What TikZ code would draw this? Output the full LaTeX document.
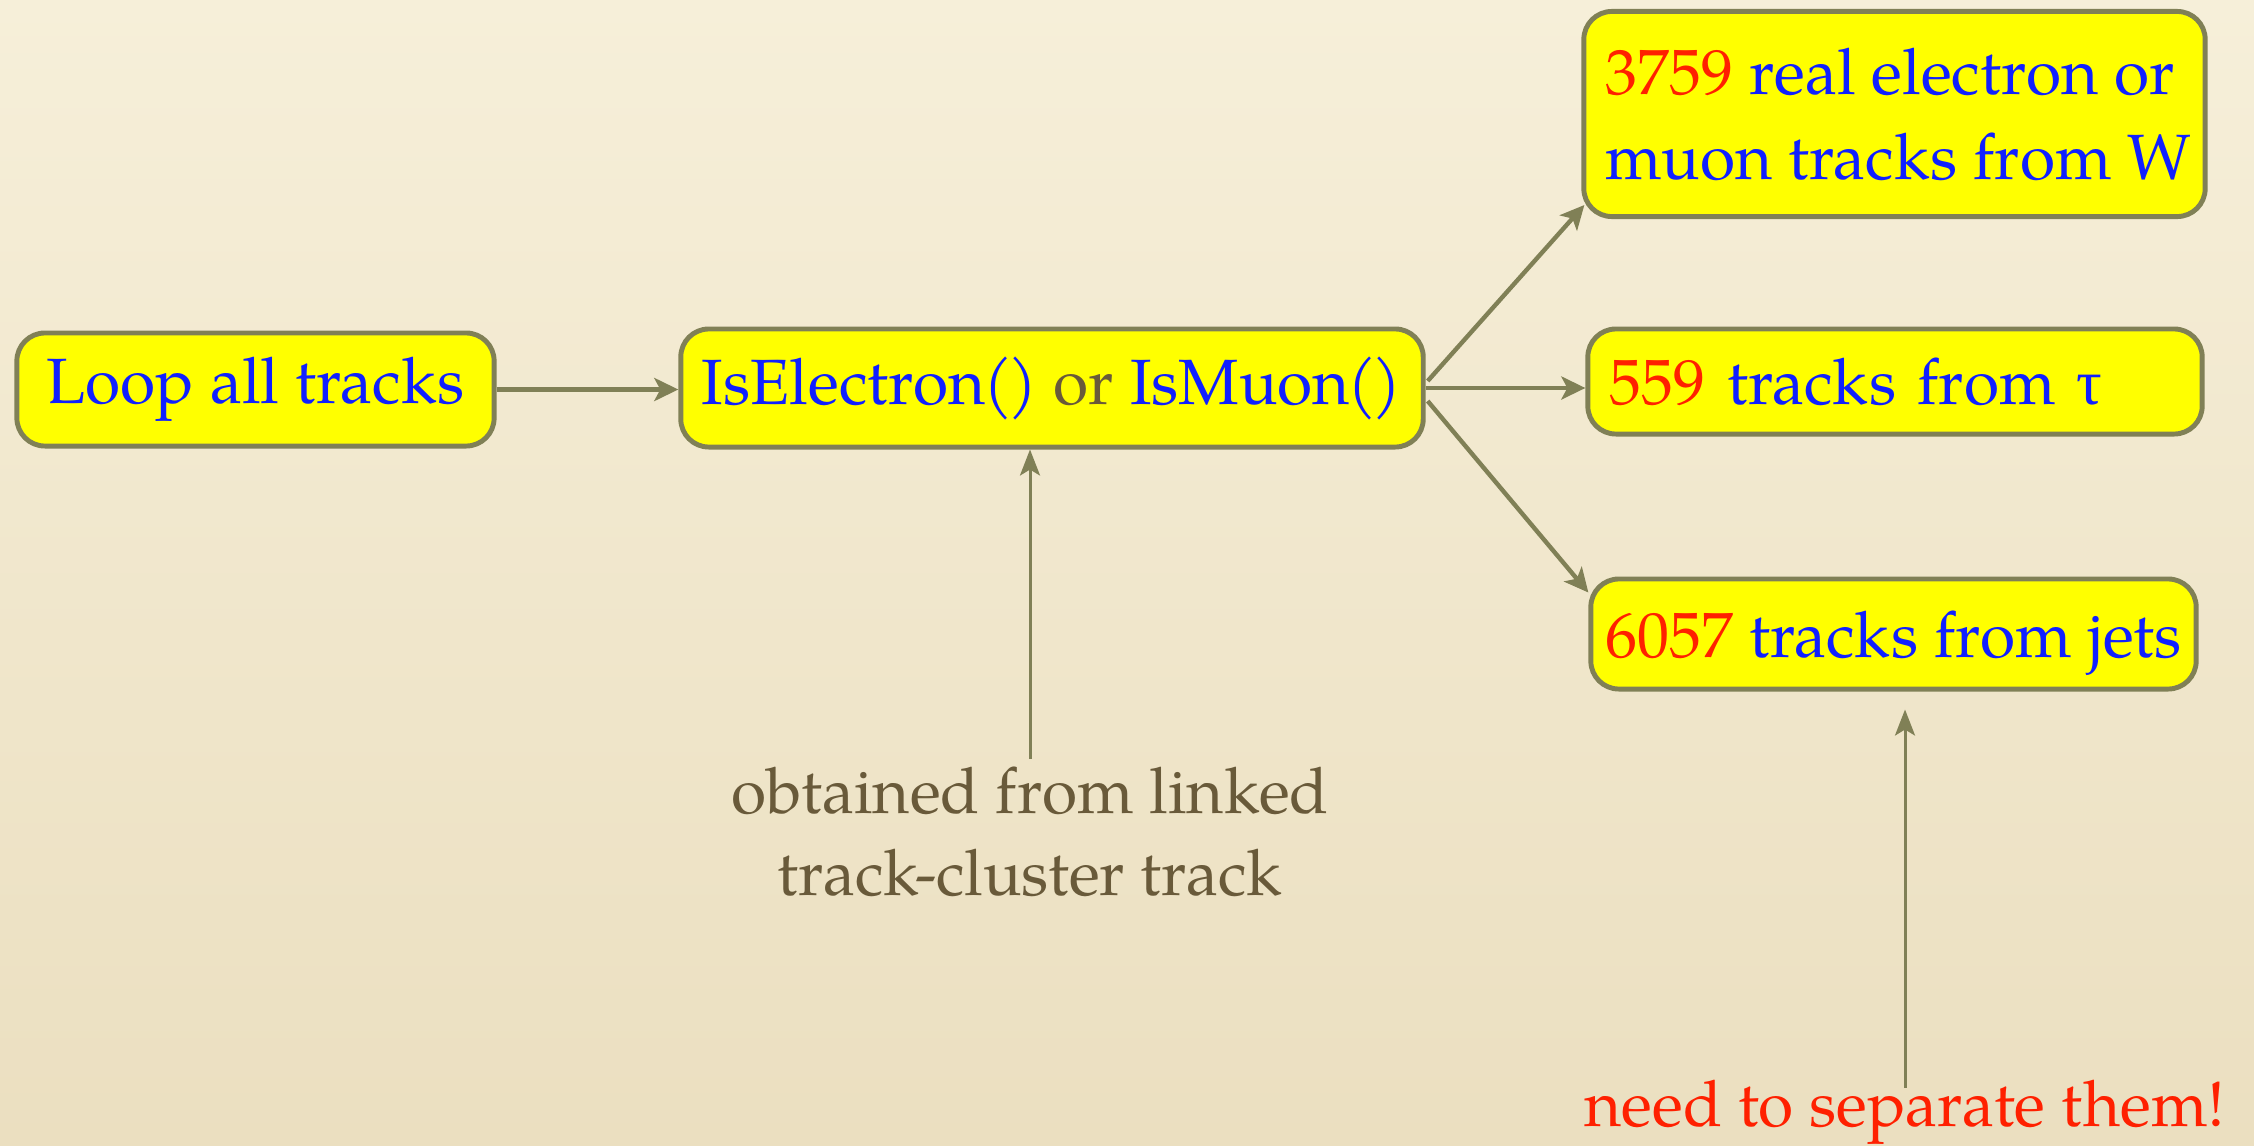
\documentclass[tikz,border=0pt]{standalone}
\usepackage{fontspec}
\setmainfont{texgyrepagella-regular.otf}
\newfontfamily\grk{Liberation Serif}
\usetikzlibrary{arrows.meta,calc}
\definecolor{bgtop}{RGB}{246,239,217}
\definecolor{bgbot}{RGB}{235,223,192}
\definecolor{boxfill}{RGB}{255,255,0}
\definecolor{edge}{RGB}{128,128,86}
\definecolor{tblue}{RGB}{16,32,255}
\definecolor{tred}{RGB}{255,32,0}
\definecolor{tbrown}{RGB}{105,90,58}
\tikzset{
  box/.style={draw=edge, line width=1.4pt, fill=boxfill, rounded corners=0.28cm,
    font=\fontsize{18.2}{24.2}\selectfont, text=tblue, inner ysep=0pt, inner xsep=0pt},
  arr/.style={draw=edge, line width=1.25pt, -{Stealth[length=0.24cm,width=0.23cm,inset=0.06cm]}},
  thinarr/.style={draw=edge, line width=0.85pt, -{Stealth[length=0.26cm,width=0.2cm,inset=0.06cm]}},
  note/.style={font=\fontsize{18.2}{23.3}\selectfont, align=center},
}
\begin{document}
\begin{tikzpicture}[x=0.01cm,y=0.01cm]
\shade[top color=bgtop,bottom color=bgbot] (0,0) rectangle (2254,-1145);
\useasboundingbox (0,0) rectangle (2254,-1145);

\node[box, minimum width=4.77cm, minimum height=1.13cm] (loop) at (255.5,-389.5) {Loop all tracks};
\node[box, minimum width=7.42cm, minimum height=1.18cm] (ise) at (1052,-388) {IsElectron\kern-0.04em(\kern-0.06em)\ \textcolor{tbrown}{or} IsMuon\kern-0.04em(\kern-0.06em)};
\node[box, minimum width=6.21cm, minimum height=2.05cm, align=left] (b1) at (1894.5,-114) {\hspace*{0.08cm}\textcolor{tred}{3759} real electron or\\\hspace*{0.08cm}muon tracks from W};
\node[box, minimum width=6.14cm, minimum height=1.05cm, inner xsep=0.22cm, text width=5.70cm, align=left] (b2) at (1895,-381.5) {\textcolor{tred}{559} tracks from {\grk τ}};
\node[box, minimum width=6.05cm, minimum height=1.10cm, text depth=0pt] (b3) at (1893.5,-634) {\textcolor{tred}{6057} tracks from jets};

\node[note, text=tbrown, anchor=north, inner sep=0.07cm] (obt) at (1030,-759) {obtained from linked\\track-cluster track};
\node[note, text=tred, anchor=base, inner sep=0pt] (need) at (1905,-1126) {need to separate them!};

\draw[arr] (loop.east) -- (loop.east -| ise.west);
\draw[arr] ([shift={(0.02cm,0.07cm)}]ise.east) -- ([shift={(0.03cm,0.14cm)}]b1.south west);
\draw[arr] (ise.east) -- (ise.east -| b2.west);
\draw[arr] ([shift={(0.02cm,-0.13cm)}]ise.east) -- ([yshift=-0.16cm]b3.north west);
\draw[thinarr] (obt.north) -- (obt.north |- ise.south);
\coordinate (nt) at ([yshift=0.38cm]need.base);
\draw[thinarr, shorten >=0.18cm] (nt) -- (nt |- b3.south);
\end{tikzpicture}
\end{document}
